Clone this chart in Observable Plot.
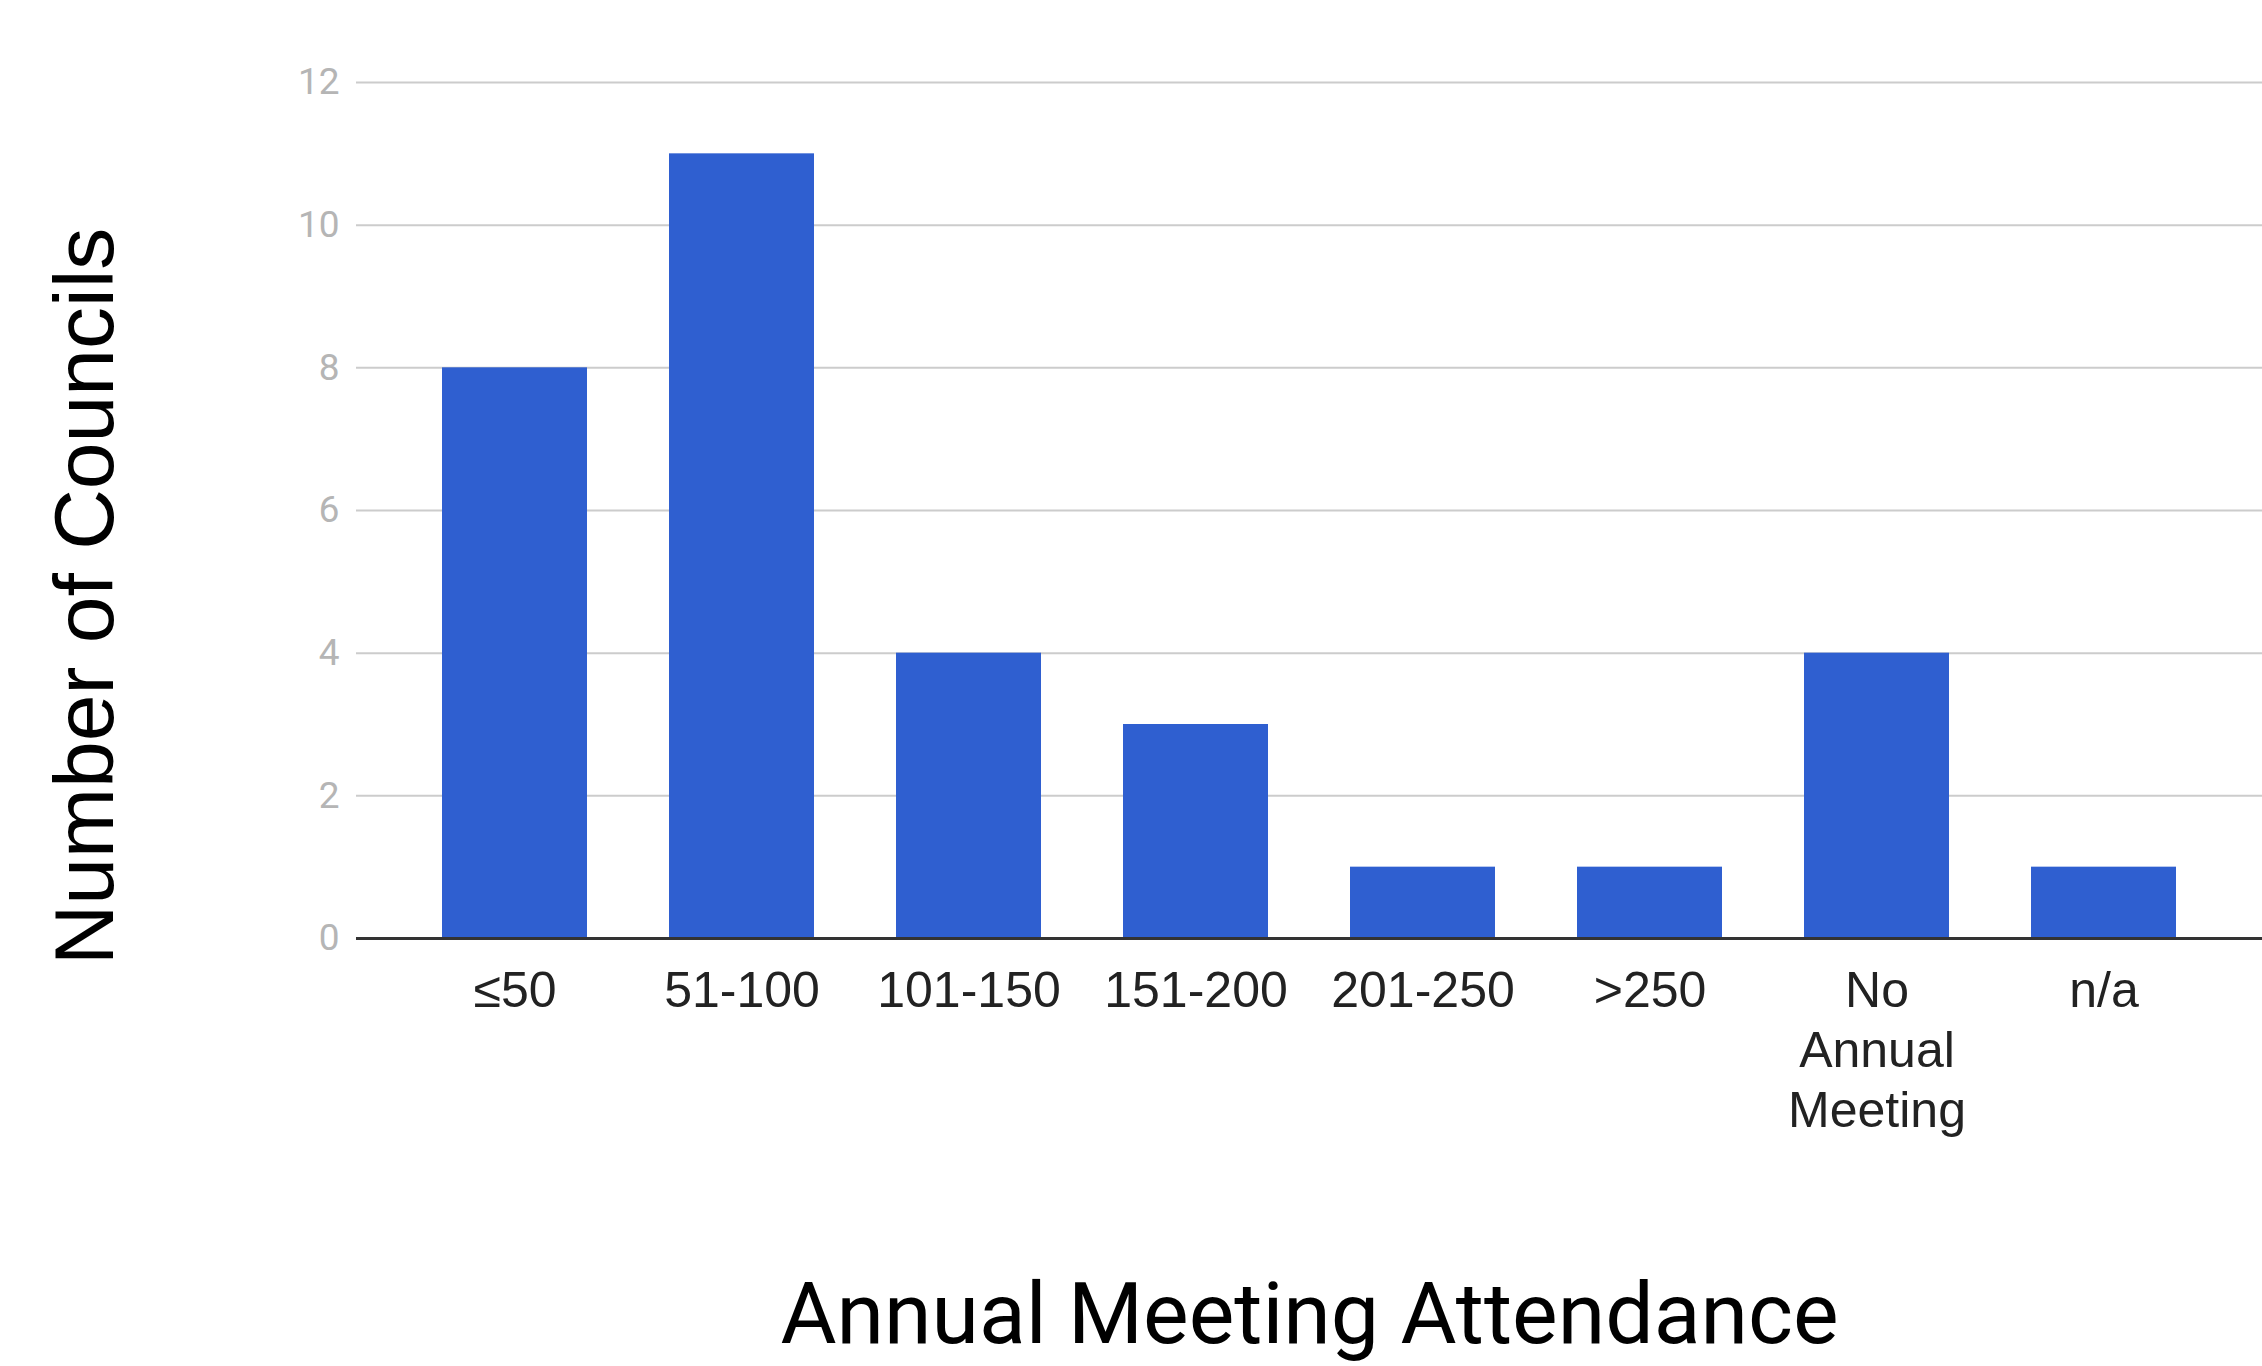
<!DOCTYPE html>
<html>
<head>
<meta charset="utf-8">
<script src="https://cdn.jsdelivr.net/npm/d3@7"></script>
<script src="https://cdn.jsdelivr.net/npm/@observablehq/plot@0.6"></script>
<style>
  html, body { margin: 0; padding: 0; background: #fff; overflow: hidden; }
  #chart svg { display: block; }
</style>
</head>
<body>
<div id="chart"></div>
<script>
const categories = ["≤50", "51-100", "101-150", "151-200", "201-250", ">250", "No\nAnnual\nMeeting", "n/a"];
const counts = [8, 11, 4, 3, 1, 1, 4, 1];
const yTicks = [0, 2, 4, 6, 8, 10, 12];
const xTitle = "Annual Meeting Attendance";
const yTitle = "Number of Councils";

const data = categories.map((c, i) => ({cat: c, count: counts[i]}));

const chart = Plot.plot({
  width: 2262,
  height: 1366,
  marginLeft: 356,
  marginRight: 0,
  marginTop: 82,
  marginBottom: 428,
  style: {background: "white"},
  x: {domain: categories, paddingInner: 0.36, paddingOuter: 0.36, label: null},
  y: {domain: [0, 12], label: null},
  marks: [
    Plot.gridY(yTicks, {stroke: "#cccccc", strokeOpacity: 1, strokeWidth: 2}),
    Plot.barY(data, {x: "cat", y: "count", fill: "#2f5fd0"}),
    Plot.ruleY([0], {stroke: "#333333", strokeWidth: 3}),
    Plot.axisY(yTicks, {tickSize: 0, tickPadding: 17, fontSize: 37, fill: "#b5b5b5", label: null, fontFamily: "Roboto", tickFormat: d => String(d)}),
    Plot.axisX({tickSize: 0, tickPadding: 26, fontSize: 50, fill: "#222222", label: null, lineHeight: 1.2, fontFamily: "Liberation Sans"}),
    Plot.text([xTitle], {text: d => d, frameAnchor: "bottom", textAnchor: "middle", dy: 404, fontSize: 86, fontFamily: "Roboto", fill: "#000"}),
    Plot.text([yTitle], {text: d => d, frameAnchor: "left", textAnchor: "middle", lineAnchor: "middle", rotate: -90, dx: -270, dy: 86, fontSize: 84, fontFamily: "Liberation Sans", fill: "#000"})
  ]
});
document.getElementById("chart").append(chart);
</script>
</body>
</html>
